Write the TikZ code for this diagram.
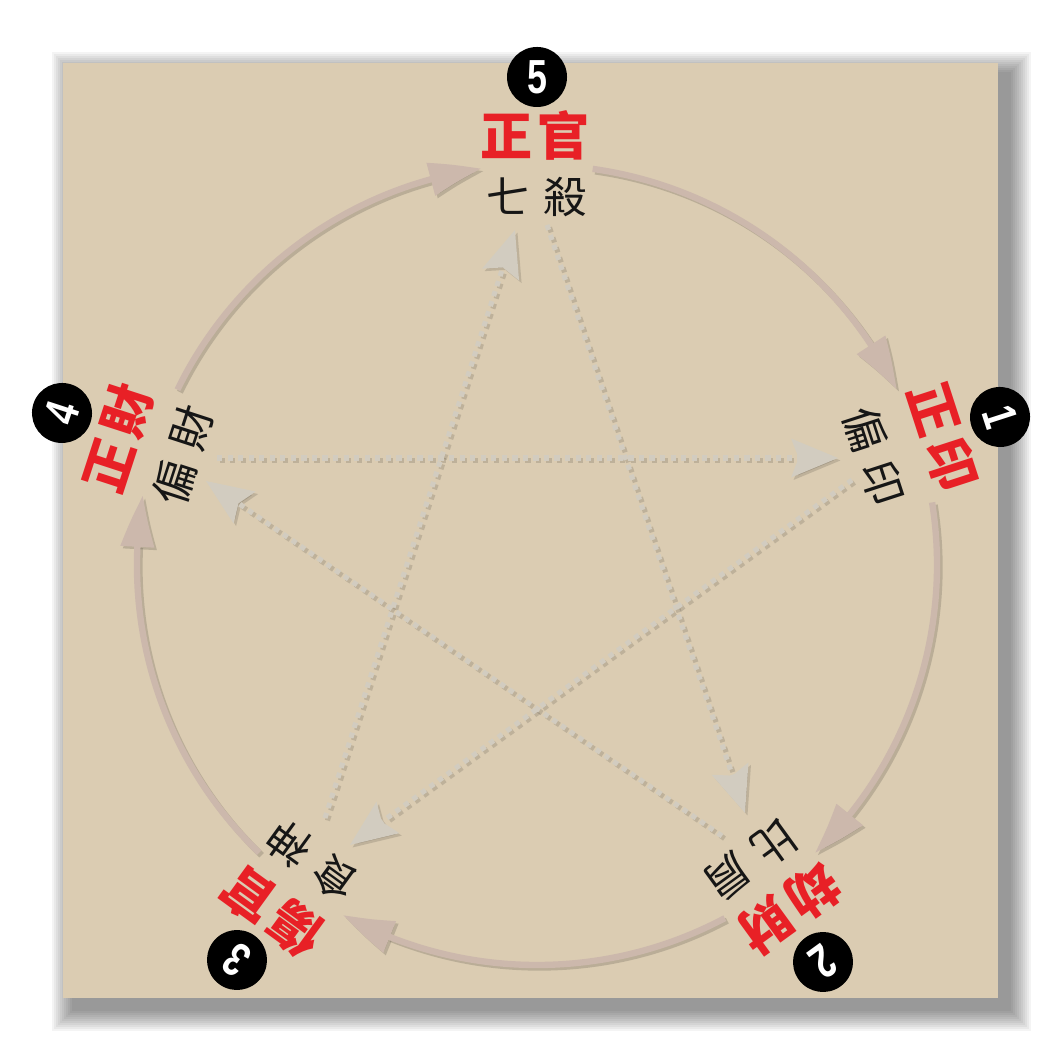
\documentclass[tikz,border=0pt]{standalone}
\usepackage{fontspec}
\usepackage{graphicx}
\newfontfamily\cjk{Noto Sans CJK TC}
\newfontfamily\numfont{Liberation Sans}
\usetikzlibrary{arrows.meta,bending}
\definecolor{bgc}{RGB}{219,204,178}
\definecolor{arcc}{RGB}{204,184,172}
\definecolor{starc}{RGB}{210,204,192}
\definecolor{redc}{RGB}{232,32,38}
\definecolor{inkc}{RGB}{22,22,22}
\tikzset{
  arcline/.style={line width=4.5pt, draw=arcc, -{Triangle[length=37pt,width=23pt,bend]}},
  starline/.style={line width=3.6pt, draw=starc, dash pattern=on 3.7pt off 3.8pt, -{Stealth[length=33pt,width=27pt,inset=5pt]}},
  redlbl/.style={text=redc, font=\cjk\bfseries\fontsize{37}{37}\selectfont, inner sep=0pt},
  blklbl/.style={text=inkc, font=\cjk\fontsize{31}{31}\selectfont, inner sep=0pt},
  numc/.style={circle, fill=black, minimum size=1.5cm, inner sep=0pt, text=white, font=\numfont\bfseries\fontsize{34}{34}\selectfont},
  shadowpass/.style={
    arcline/.append style={draw=black, opacity=.15},
    starline/.append style={draw=black, opacity=.13}}
}
\newcommand\arcsandstar{%
  % circle arcs (clockwise cycle)
  \draw[arcline] ([shift={(537,498)}]154:400) arc[start angle=154,end angle=98,radius=10cm];
  \draw[arcline] ([shift={(537,498)}]82:400) arc[start angle=82,end angle=26,radius=10cm];
  \draw[arcline] ([shift={(537,498)}]9:400) arc[start angle=9,end angle=-46,radius=10cm];
  \draw[arcline] ([shift={(537,498)}]-62:400) arc[start angle=-62,end angle=-119,radius=10cm];
  \draw[arcline] ([shift={(537,498)}]-134:400) arc[start angle=-134,end angle=-190,radius=10cm];
  % star end points
  \coordinate (a1) at (547,838); \coordinate (a2) at (745,250);
  \coordinate (b1) at (722,227); \coordinate (b2) at (206,582);
  \coordinate (c1) at (217,605); \coordinate (c2) at (838,605);
  \coordinate (d1) at (852,583); \coordinate (d2) at (350,218);
  \coordinate (e1) at (325,245); \coordinate (e2) at (515,833);
  \draw[starline] (a1) -- (a2);
  \draw[starline] (b1) -- (b2);
  \draw[starline] (c1) -- (c2);
  \draw[starline] (d1) -- (d2);
  \draw[starline] (e1) -- (e2);
}
\begin{document}
\begin{tikzpicture}[x=0.025cm,y=0.025cm]
  \useasboundingbox (0,0) rectangle (1063,1063);
  \fill[white] (0,0) rectangle (1063,1063);
  % frame shadow
  \foreach \k in {1,...,11}
    \fill[black, opacity=0.045] (74-\k*2, 54-\k*2) rectangle (1009+\k*2, 989+\k*2);
  \fill[bgc] (63,65) rectangle (998,1000);
  \begin{scope}[shift={(2.5,-2.5)}, shadowpass]
    \arcsandstar
  \end{scope}
  \arcsandstar
  % red labels
  \node[redlbl] (r5) at (535,928) {正\hspace{.08em}官};
  \node[redlbl, rotate=-72] (r1) at (943,626) {正\hspace{.12em}印};
  \node[redlbl, rotate=-144] (r2) at (789,154) {劫\hspace{.12em}財};
  \node[redlbl, rotate=144] (r3) at (272,151) {傷\hspace{.12em}官};
  \node[redlbl, rotate=72] (r4) at (118,625) {正\hspace{.12em}財};
  % black labels
  \node[blklbl] (k5) at (537,866) {七\hspace{.32em}殺};
  \node[blklbl, rotate=-72] (k1) at (874,607) {偏\hspace{.32em}印};
  \node[blklbl, rotate=-144] (k2) at (751,203) {比\hspace{.32em}肩};
  \node[blklbl, rotate=144] (k3) at (312,202) {食\hspace{.32em}神};
  \node[blklbl, rotate=72] (k4) at (183,608) {偏\hspace{.32em}財};
  % number badges
  \node[numc] (n5) at (537,986) {\scalebox{0.75}[1]{5}};
  \node[numc, rotate=-72] (n1) at (1000,646) {\scalebox{0.75}[1]{1}};
  \node[numc, rotate=-144] (n2) at (823,101) {\scalebox{0.75}[1]{2}};
  \node[numc, rotate=144] (n3) at (237,103) {\scalebox{0.75}[1]{3}};
  \node[numc, rotate=72] (n4) at (62,650) {\scalebox{0.75}[1]{4}};
\end{tikzpicture}
\end{document}
